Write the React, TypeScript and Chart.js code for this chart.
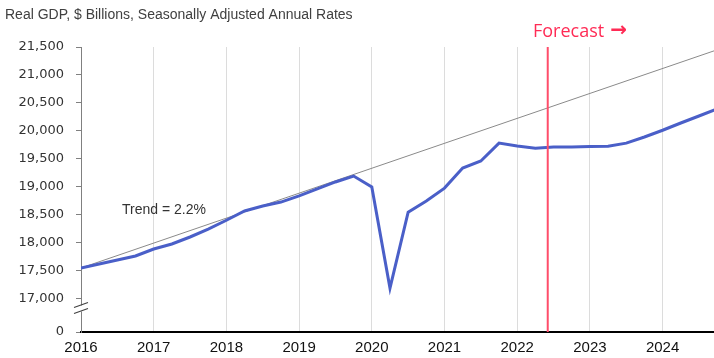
import React, { useEffect, useRef } from "react";
import { Chart, registerables } from "chart.js";

Chart.register(...registerables);

// Quarterly real GDP ($ billions, SAAR), actual + forecast
const quarters = [
  "2016Q1", "2016Q2", "2016Q3", "2016Q4",
  "2017Q1", "2017Q2", "2017Q3", "2017Q4",
  "2018Q1", "2018Q2", "2018Q3", "2018Q4",
  "2019Q1", "2019Q2", "2019Q3", "2019Q4",
  "2020Q1", "2020Q2", "2020Q3", "2020Q4",
  "2021Q1", "2021Q2", "2021Q3", "2021Q4",
  "2022Q1", "2022Q2", "2022Q3", "2022Q4",
  "2023Q1", "2023Q2", "2023Q3", "2023Q4",
  "2024Q1", "2024Q2", "2024Q3", "2024Q4",
];
const gdp = [
  17545, 17616, 17688, 17760,
  17885, 17975, 18100, 18240,
  18400, 18565, 18655, 18725,
  18835, 18960, 19085, 19190,
  18995, 17185, 18545, 18745,
  18975, 19335, 19460, 19780,
  19730, 19690, 19710, 19710,
  19720, 19725, 19780, 19890,
  20010, 20140, 20265, 20390,
];
const trendQuarters = ["2016Q1", "2024Q4"];
const trendValues = [17545, 21450];

const yearTicks = [2016, 2017, 2018, 2019, 2020, 2021, 2022, 2023, 2024];
const yTickValues = [16400, 17000, 17500, 18000, 18500, 19000, 19500, 20000, 20500, 21000, 21500];
const yTickLabels = ["0", "17,000", "17,500", "18,000", "18,500", "19,000", "19,500", "20,000", "20,500", "21,000", "21,500"];
const forecastStart = 2022.42;
const xMin = 2016;
const xMax = 2024.707;
const yMin = 16400;
const yMax = 21500;

const titleText = "Real GDP, $ Billions, Seasonally Adjusted Annual Rates";
const forecastWord = "Forecast";
const forecastArrow = "\u2192";
const trendText = "Trend = 2.2%";

function qToNum(q: string): number {
  const y = parseInt(q.slice(0, 4), 10);
  const n = parseInt(q.slice(5), 10);
  return y + (n - 1) / 4;
}

const annotations = {
  id: "annotations",
  afterDatasetsDraw(chart: any) {
    const { ctx, chartArea, scales } = chart;
    const x = scales.x;
    ctx.save();
    const fx = x.getPixelForValue(forecastStart);
    ctx.strokeStyle = "#ff4d6a";
    ctx.lineWidth = 2;
    ctx.beginPath();
    ctx.moveTo(fx, chartArea.top);
    ctx.lineTo(fx, chartArea.bottom);
    ctx.stroke();
    ctx.restore();
  },
  afterDraw(chart: any) {
    const { ctx, chartArea, scales } = chart;
    const y = scales.y;
    ctx.save();
    ctx.textBaseline = "middle";
    ctx.textAlign = "left";
    // title
    ctx.fillStyle = "#404040";
    ctx.font = "14px 'Liberation Sans', sans-serif";
    ctx.fillText(titleText, 5, 15);
    // forecast label
    ctx.fillStyle = "#ff2b55";
    ctx.font = "18px 'Open Sans', sans-serif";
    ctx.fillText(forecastWord, 533, 32);
    const w = ctx.measureText(forecastWord).width;
    ctx.font = "bold 20px 'DejaVu Sans', sans-serif";
    ctx.fillText(forecastArrow, 533 + w + 6, 31);
    // trend label
    ctx.fillStyle = "#333333";
    ctx.font = "14px 'Liberation Sans', sans-serif";
    ctx.fillText(trendText, 122, 210);
    // axis break marker
    const ax = chartArea.left;
    const by = y.getPixelForValue(17000) + 10;
    ctx.fillStyle = "#ffffff";
    ctx.fillRect(ax - 2, by - 3, 4, 6);
    ctx.strokeStyle = "#404040";
    ctx.lineWidth = 1.2;
    ctx.beginPath();
    ctx.moveTo(ax - 7, by - 1);
    ctx.lineTo(ax + 7, by - 6);
    ctx.moveTo(ax - 7, by + 5);
    ctx.lineTo(ax + 7, by);
    ctx.stroke();
    ctx.restore();
  },
};

export default function App() {
  const ref = useRef<HTMLCanvasElement | null>(null);
  useEffect(() => {
    if (!ref.current) return;
    const chart = new Chart(ref.current, {
      type: "line",
      data: {
        datasets: [
          {
            label: "Real GDP",
            data: quarters.map((q, i) => ({ x: qToNum(q), y: gdp[i] })),
            borderColor: "#4a5fc8",
            borderWidth: 3,
            pointRadius: 0,
            tension: 0,
            order: 1,
          },
          {
            label: "Trend",
            data: trendQuarters.map((q, i) => ({ x: qToNum(q), y: trendValues[i] })),
            borderColor: "#8a8a8a",
            borderWidth: 1,
            pointRadius: 0,
            order: 2,
          },
        ],
      },
      options: {
        animation: false,
        responsive: true,
        maintainAspectRatio: false,
        layout: { padding: { top: 47, right: 0, left: 0, bottom: 0 } },
        plugins: {
          legend: { display: false },
          tooltip: { enabled: false },
          title: { display: false },
        },
        scales: {
          x: {
            type: "linear",
            min: xMin,
            max: xMax,
            afterBuildTicks: (s: any) => {
              s.ticks = yearTicks.map((v) => ({ value: v }));
            },
            afterFit: (s: any) => {
              s.height = 26;
            },
            ticks: {
              callback: (v: any) => String(v),
              color: "#111111",
              font: { family: "'Liberation Sans', sans-serif", size: 15 },
              padding: 7,
              maxRotation: 0,
              autoSkip: false,
            },
            grid: { color: "#dcdcdc", lineWidth: 1, drawTicks: false },
            border: { display: true, color: "#000000", width: 2 },
          },
          y: {
            type: "linear",
            min: yMin,
            max: yMax,
            afterBuildTicks: (s: any) => {
              s.ticks = yTickValues.map((v) => ({ value: v }));
            },
            afterFit: (s: any) => {
              s.width = 81;
            },
            ticks: {
              callback: (v: any) => {
                const i = yTickValues.indexOf(Number(v));
                return i >= 0 ? yTickLabels[i] : "";
              },
              color: "#333333",
              font: { family: "'DejaVu Sans', sans-serif", size: 13 },
              padding: 12,
              autoSkip: false,
            },
            grid: { drawOnChartArea: false, drawTicks: true, tickLength: 5, color: "#808080" },
            border: { display: true, color: "#808080", width: 1 },
          },
        },
      },
      plugins: [annotations],
    } as any);
    return () => chart.destroy();
  }, []);
  return (
    <div style={{ position: "fixed", left: 0, top: 0, width: 714, height: 358, background: "#ffffff" }}>
      <canvas ref={ref} />
    </div>
  );
}
